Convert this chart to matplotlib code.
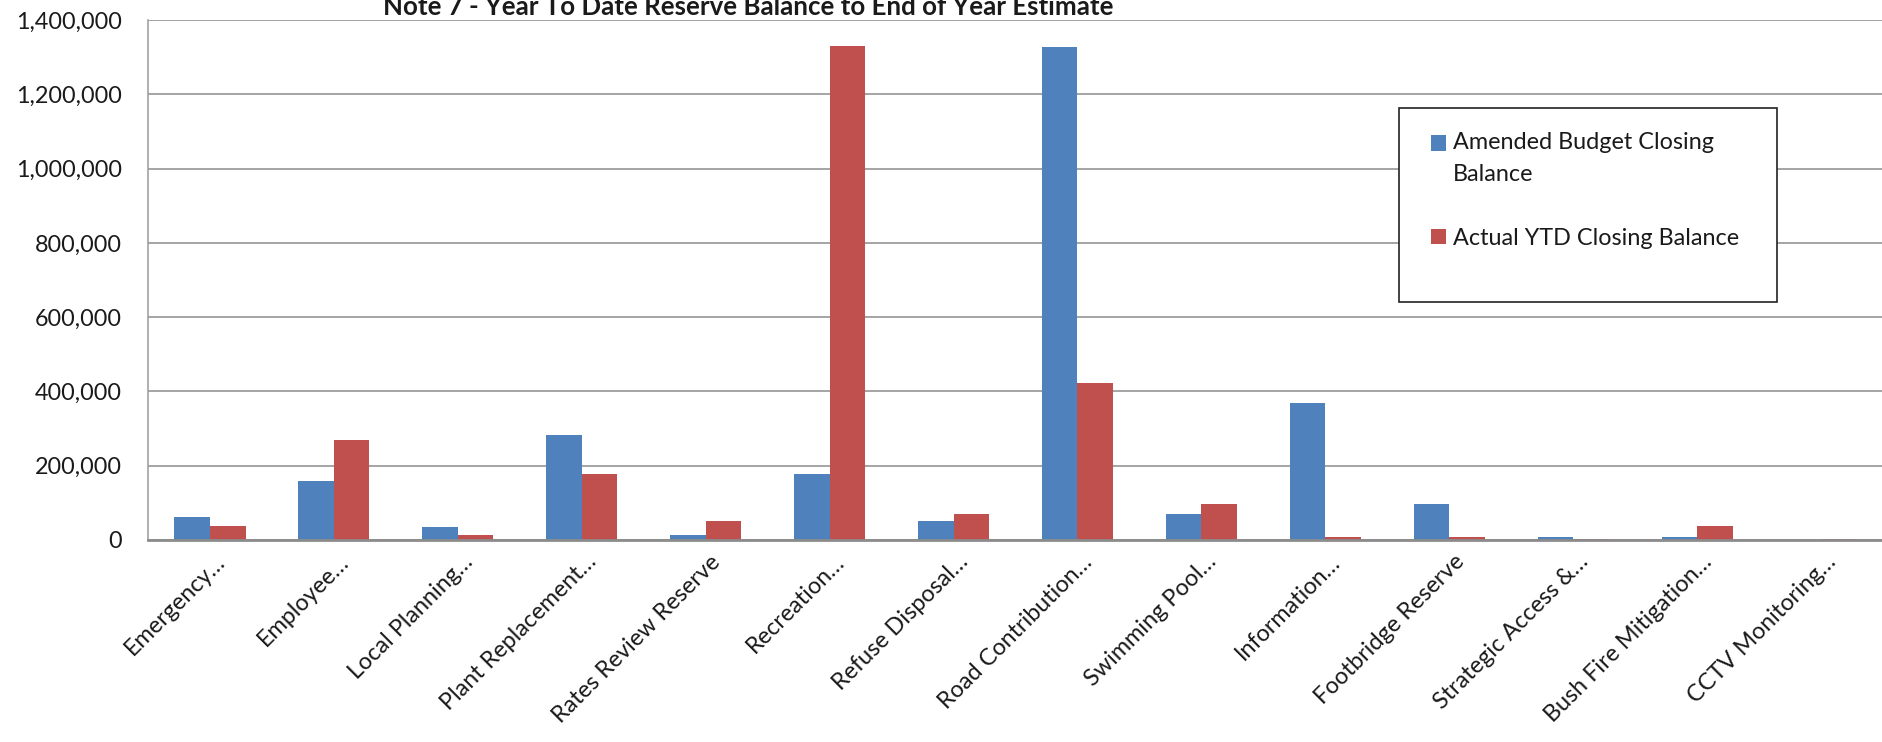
import matplotlib
matplotlib.use("Agg")
import matplotlib.pyplot as plt
import matplotlib.transforms as mtransforms
from matplotlib.patches import Patch, Rectangle
from matplotlib.legend_handler import HandlerPatch
from matplotlib.ticker import FuncFormatter
import numpy as np

plt.rcParams['font.family'] = ['Lato', 'DejaVu Sans']

# data
categories = ["Emergency…", "Employee…", "Local Planning…", "Plant Replacement…",
              "Rates Review Reserve", "Recreation…", "Refuse Disposal…", "Road Contribution…",
              "Swimming Pool…", "Information…", "Footbridge Reserve", "Strategic Access &…",
              "Bush Fire Mitigation…", "CCTV Monitoring…"]
amended_budget = [62000, 160000, 36000, 284000, 14000, 179000, 52000, 1327000,
                  71000, 369000, 97000, 8000, 8000, 0]
actual_ytd = [37000, 270000, 14000, 177000, 52000, 1330000, 70000, 424000,
              97000, 8000, 8000, 3000, 38000, 3000]
series_names = ["Amended Budget Closing\nBalance", "Actual YTD Closing Balance"]
title = "Note 7 - Year To Date Reserve Balance to End of Year Estimate"

blue = "#4F81BD"
red = "#C0504D"
fs = 16.8


class TopSquare(HandlerPatch):
    # square legend key, optionally lifted to sit beside the first text line
    def __init__(self, dy=0.0, **kw):
        super().__init__(**kw)
        self.dy = dy

    def create_artists(self, legend, orig_handle, xdescent, ydescent,
                       width, height, fontsize, trans):
        p = Rectangle((-xdescent, -ydescent + self.dy), width, height)
        self.update_prop(p, orig_handle, legend)
        p.set_transform(trans)
        return [p]


fig = plt.figure(figsize=(18.83, 7.42), dpi=100)
ax = fig.add_axes([148 / 1883, 1 - 540 / 742, 1 - 148 / 1883, 520 / 742])

x = np.arange(len(categories))
w = 0.287
ax.bar(x - w / 2, amended_budget, w, color=blue, zorder=2)
ax.bar(x + w / 2, actual_ytd, w, color=red, zorder=2)

ax.set_xlim(-0.5, len(categories) - 0.5)
ax.set_ylim(0, 1400000)
ax.set_yticks(np.arange(0, 1400001, 200000))
ax.yaxis.set_major_formatter(FuncFormatter(lambda v, p: f"{v:,.0f}"))
ax.set_axisbelow(True)
ax.yaxis.grid(True, color="#8c8c8c", linewidth=1.1)

for s in ["top", "right"]:
    ax.spines[s].set_visible(False)
ax.spines["left"].set_color("#9a9a9a")
ax.spines["left"].set_linewidth(1.1)
ax.spines["bottom"].set_color("#8c8c8c")
ax.spines["bottom"].set_linewidth(2.0)

ax.tick_params(axis="y", length=0, pad=18.7, labelsize=fs, labelcolor="#1a1a1a")
ax.tick_params(axis="x", length=0, pad=8, labelsize=fs, labelcolor="#1a1a1a")
ax.set_xticks(x)
ax.set_xticklabels(categories, rotation=45, ha="right", va="top", rotation_mode="anchor")
shift = mtransforms.ScaledTranslation(4 / 100, 0, fig.dpi_scale_trans)
for lab in ax.get_xticklabels():
    lab.set_transform(lab.get_transform() + shift)

fig.text(748 / 1883, 1 - 15 / 742, title, ha="center", va="baseline",
         fontsize=18.6, fontweight="bold", color="#1a1a1a")

# legend box
fig.patches.append(Rectangle((1399 / 1883, 1 - 302 / 742), 378 / 1883, 194 / 742,
                             transform=fig.transFigure, facecolor="white",
                             edgecolor="#222222", linewidth=1.2, zorder=5))
h1 = Patch(facecolor=blue)
h2 = Patch(facecolor=red)
lsp = 1.65
leg = fig.legend([h1, h2], series_names, loc="upper left",
                 bbox_to_anchor=(1431 / 1883, 1 - 132 / 742), frameon=False,
                 fontsize=fs, handlelength=0.64, handleheight=0.64, handletextpad=0.3,
                 labelspacing=1.84, borderpad=0, borderaxespad=0,
                 handler_map={h1: TopSquare(dy=11.5), h2: TopSquare()})
leg.set_zorder(6)
for t in leg.get_texts():
    t.set_linespacing(lsp)
    t.set_color("#1a1a1a")

fig.savefig("out.png", dpi=100)
